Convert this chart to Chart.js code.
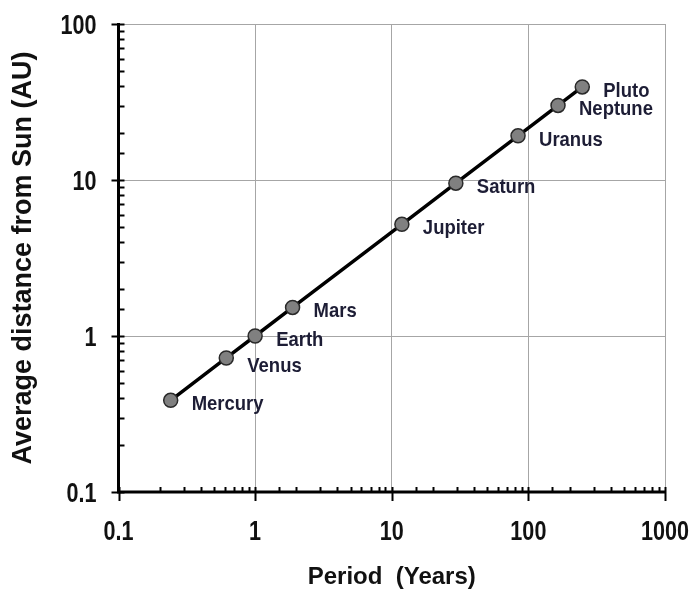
<!DOCTYPE html>
<html>
<head>
<meta charset="utf-8">
<script src="https://cdn.jsdelivr.net/npm/chart.js@4/dist/chart.umd.min.js"></script>
<style>
  html, body { margin: 0; padding: 0; background: #ffffff; }
  #wrap { width: 691px; height: 589px; position: relative; }
</style>
</head>
<body>
<div id="wrap"><canvas id="chart" width="691" height="589"></canvas></div>
<script>
// Orbital period vs. mean distance from the Sun
const planets = ['Mercury', 'Venus', 'Earth', 'Mars', 'Jupiter', 'Saturn', 'Uranus', 'Neptune', 'Pluto'];
const periodYears = [0.241, 0.615, 1.0, 1.88, 11.86, 29.46, 84.01, 164.8, 248];
const distanceAU = [0.387, 0.723, 1.0, 1.524, 5.2, 9.54, 19.19, 30.07, 39.5];

// Decade tick labels on both axes
const xTickLabels = ['0.1', '1', '10', '100', '1000'];
const yTickLabels = ['0.1', '1', '10', '100'];

const SANS = '"Liberation Sans", Arial, sans-serif';

const isDecade = v => Math.abs(Math.log10(v) - Math.round(Math.log10(v))) < 1e-9;
const decadeText = (labels, value) => {
  if (!isDecade(value)) return '';
  const s = String(+value.toPrecision(6));
  return labels.includes(s) ? s : '';
};

// Condensed (horizontally squeezed) bold text
function narrowText(ctx, text, x, y, font, sx, align, color) {
  ctx.save();
  ctx.font = font;
  ctx.fillStyle = color;
  ctx.textAlign = align;
  ctx.textBaseline = 'middle';
  ctx.translate(x, y);
  ctx.scale(sx, 1);
  ctx.fillText(text, 0, 0);
  ctx.restore();
}

// Axis lines, tick marks and decade labels
const axisTicks = {
  id: 'axisTicks',
  afterDatasetsDraw(chart, args, opts) {
    const { ctx, chartArea: a, scales: { x, y } } = chart;
    ctx.save();
    ctx.strokeStyle = '#000';
    ctx.lineCap = 'butt';
    ctx.lineWidth = 2;
    x.ticks.forEach(t => {
      const px = Math.round(x.getPixelForValue(t.value)) + 0.5;
      const major = isDecade(t.value);
      ctx.beginPath();
      ctx.moveTo(px, a.bottom - 5);
      ctx.lineTo(px, a.bottom + (major ? 9 : 0));
      ctx.stroke();
    });
    y.ticks.forEach(t => {
      const py = Math.round(y.getPixelForValue(t.value)) + 0.5;
      const major = isDecade(t.value);
      ctx.beginPath();
      ctx.moveTo(a.left - (major ? 7 : 0), py);
      ctx.lineTo(a.left + 6, py);
      ctx.stroke();
    });
    ctx.lineWidth = 3;
    ctx.beginPath();
    ctx.moveTo(a.left, a.top - 1);
    ctx.lineTo(a.left, a.bottom);
    ctx.lineTo(a.right + 1, a.bottom);
    ctx.stroke();
    ctx.restore();

    x.ticks.forEach(t => {
      const s = decadeText(xTickLabels, t.value);
      if (s) narrowText(ctx, s, x.getPixelForValue(t.value), a.bottom + 41, opts.font, opts.squeeze, 'center', opts.color);
    });
    y.ticks.forEach(t => {
      const s = decadeText(yTickLabels, t.value);
      if (s) narrowText(ctx, s, a.left - 22, y.getPixelForValue(t.value) + 3, opts.font, opts.squeeze, 'right', opts.color);
    });
  }
};

// Planet names beside each point
const pointNames = {
  id: 'pointNames',
  afterDatasetsDraw(chart, args, opts) {
    const { ctx, scales: { x, y } } = chart;
    planets.forEach((name, i) => {
      const off = (opts.offsets && opts.offsets[name]) || opts.offset;
      const px = x.getPixelForValue(periodYears[i]);
      const py = y.getPixelForValue(distanceAU[i]);
      narrowText(ctx, name, px + off[0], py + off[1], opts.font, opts.squeeze, 'left', opts.color);
    });
  }
};

const gridColor = ctx => (ctx.tick && isDecade(ctx.tick.value)) ? '#a6a6a6' : 'rgba(0,0,0,0)';

new Chart(document.getElementById('chart'), {
  type: 'scatter',
  data: {
    datasets: [{
      data: periodYears.map((p, i) => ({ x: p, y: distanceAU[i] })),
      showLine: true,
      borderColor: '#000000',
      borderWidth: 3.5,
      pointRadius: 7,
      pointBackgroundColor: '#808080',
      pointBorderColor: '#2a2a2a',
      pointBorderWidth: 1.5,
      tension: 0
    }]
  },
  options: {
    responsive: false,
    animation: false,
    events: [],
    layout: { padding: { top: 24, right: 26, left: 0, bottom: 0 } },
    plugins: {
      legend: { display: false },
      tooltip: { enabled: false },
      axisTicks: {
        font: 'bold 27px ' + SANS,
        squeeze: 0.8,
        color: '#111111'
      },
      pointNames: {
        font: 'bold 21px ' + SANS,
        squeeze: 0.88,
        color: '#1d1d35',
        offset: [21, 4],
        offsets: { Venus: [21, 8] }
      }
    },
    scales: {
      x: {
        type: 'logarithmic',
        min: 0.1,
        max: 1000,
        border: { display: false },
        grid: { color: gridColor, lineWidth: 1, drawTicks: false },
        ticks: { display: false, autoSkip: false },
        title: {
          display: true,
          text: 'Period  (Years)',
          color: '#111111',
          font: { family: SANS, size: 24, weight: 'bold', lineHeight: 1 },
          padding: { top: 0, bottom: 0 }
        },
        afterFit: s => { s.height = 97; }
      },
      y: {
        type: 'logarithmic',
        min: 0.1,
        max: 100,
        border: { display: false },
        grid: { color: gridColor, lineWidth: 1, drawTicks: false },
        ticks: { display: false, autoSkip: false },
        title: {
          display: true,
          text: 'Average distance from Sun (AU)',
          color: '#111111',
          font: { family: SANS, size: 27, weight: 'bold', lineHeight: 1 },
          padding: { top: 10, bottom: 0 }
        },
        afterFit: s => { s.width = 118.5; }
      }
    }
  },
  plugins: [axisTicks, pointNames]
});
</script>
</body>
</html>
